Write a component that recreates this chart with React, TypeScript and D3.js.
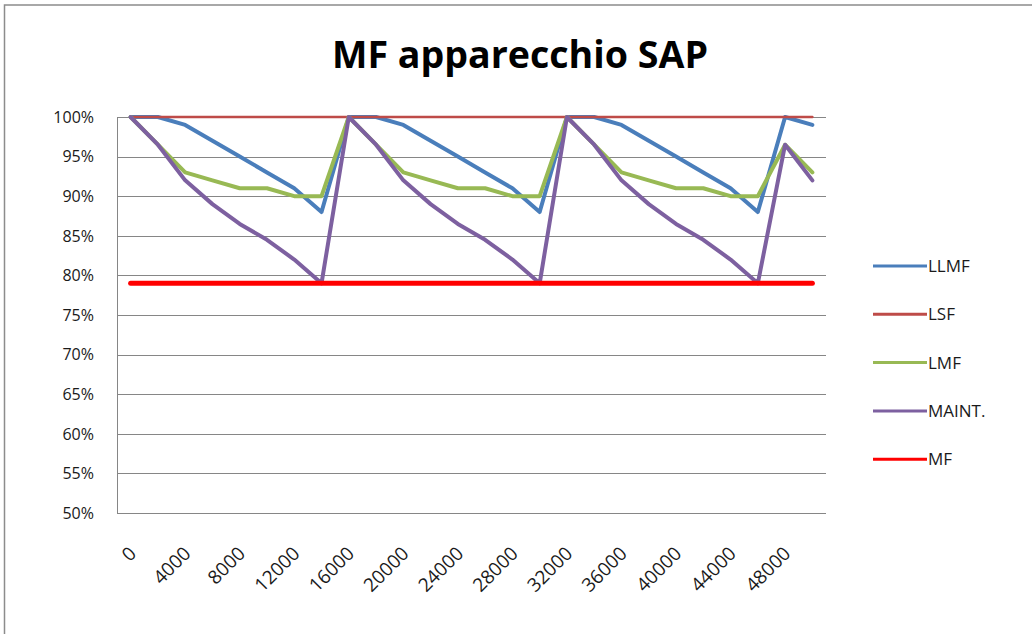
import React, { useEffect, useRef } from "react";
import * as d3 from "d3";

// ore di funzionamento (categorie asse x)
const hours = [
  0, 2000, 4000, 6000, 8000, 10000, 12000, 14000, 16000, 18000, 20000, 22000, 24000,
  26000, 28000, 30000, 32000, 34000, 36000, 38000, 40000, 42000, 44000, 46000, 48000, 50000,
];

const llmf = [
  100, 100, 99, 97, 95, 93, 91, 88, 100, 100, 99, 97, 95, 93, 91, 88, 100, 100, 99, 97, 95,
  93, 91, 88, 100, 99,
];
const lsf = [
  100, 100, 100, 100, 100, 100, 100, 100, 100, 100, 100, 100, 100, 100, 100, 100, 100, 100,
  100, 100, 100, 100, 100, 100, 100, 100,
];
const lmf = [
  100, 96.5, 93, 92, 91, 91, 90, 90, 100, 96.5, 93, 92, 91, 91, 90, 90, 100, 96.5, 93, 92,
  91, 91, 90, 90, 96.5, 93,
];
const maint = [
  100, 96.5, 92, 89, 86.5, 84.5, 82, 79, 100, 96.5, 92, 89, 86.5, 84.5, 82, 79, 100, 96.5,
  92, 89, 86.5, 84.5, 82, 79, 96.5, 92,
];
const mf = [
  79, 79, 79, 79, 79, 79, 79, 79, 79, 79, 79, 79, 79, 79, 79, 79, 79, 79, 79, 79, 79, 79, 79,
  79, 79, 79,
];

const yTicks = [50, 55, 60, 65, 70, 75, 80, 85, 90, 95, 100];

const series = [
  { name: "LLMF", values: llmf, color: "#4a7ebb", width: 4 },
  { name: "LSF", values: lsf, color: "#be4b48", width: 2.5 },
  { name: "LMF", values: lmf, color: "#98b954", width: 4 },
  { name: "MAINT.", values: maint, color: "#7d60a0", width: 4 },
  { name: "MF", values: mf, color: "#ff0000", width: 5 },
];

export default function App() {
  const ref = useRef<SVGSVGElement>(null);

  useEffect(() => {
    const svg = d3.select(ref.current);
    svg.selectAll("*").remove();

    const font = "'Open Sans', 'DejaVu Sans', sans-serif";
    const left = 117;
    const right = 826;
    const top = 117;
    const bottom = 513;

    const x = d3
      .scalePoint<number>()
      .domain(hours)
      .range([left, right])
      .padding(0.5);
    const y = d3.scaleLinear().domain([50, 100]).range([bottom, top]);

    // cornice del grafico
    svg
      .append("rect")
      .attr("x", 4.5)
      .attr("y", 5)
      .attr("width", 1040)
      .attr("height", 640)
      .attr("fill", "white")
      .attr("stroke", "#8c8c8c")
      .attr("stroke-width", 1.5);

    svg
      .append("text")
      .attr("x", 520)
      .attr("y", 68)
      .attr("text-anchor", "middle")
      .attr("font-family", font)
      .attr("font-weight", "bold")
      .attr("font-size", 37)
      .attr("textLength", 376)
      .attr("lengthAdjust", "spacingAndGlyphs")
      .attr("fill", "#000")
      .text("MF apparecchio SAP");

    // griglia
    svg
      .append("g")
      .selectAll("line")
      .data(yTicks)
      .enter()
      .append("line")
      .attr("x1", left)
      .attr("x2", right)
      .attr("y1", (d) => Math.round(y(d)) + 0.5)
      .attr("y2", (d) => Math.round(y(d)) + 0.5)
      .attr("stroke", "#868686")
      .attr("stroke-width", 1);

    svg
      .append("line")
      .attr("x1", left + 0.5)
      .attr("x2", left + 0.5)
      .attr("y1", top)
      .attr("y2", bottom)
      .attr("stroke", "#868686");

    svg
      .append("g")
      .selectAll("text")
      .data(yTicks)
      .enter()
      .append("text")
      .attr("x", 94)
      .attr("y", (d) => y(d))
      .attr("dy", "0.36em")
      .attr("text-anchor", "end")
      .attr("font-family", font)
      .attr("font-size", 16)
      .attr("fill", "#1a1a1a")
      .text((d) => d + "%");

    // etichette asse x, una sì e una no
    svg
      .append("g")
      .selectAll("text")
      .data(hours.filter((d, i) => i % 2 === 0))
      .enter()
      .append("text")
      .attr("transform", (d) => "translate(" + (x(d)! + 2) + ",550) rotate(-45)")
      .attr("dy", "0.35em")
      .attr("text-anchor", "end")
      .attr("font-family", font)
      .attr("font-size", 19)
      .attr("fill", "#1a1a1a")
      .text((d) => String(d));

    const line = d3
      .line<number>()
      .x((d, i) => x(hours[i])!)
      .y((d) => y(d));

    svg
      .append("g")
      .selectAll("path")
      .data(series)
      .enter()
      .append("path")
      .attr("d", (s) => line(s.values))
      .attr("fill", "none")
      .attr("stroke", (s) => s.color)
      .attr("stroke-width", (s) => s.width)
      .attr("stroke-linejoin", "round")
      .attr("stroke-linecap", "round");

    // legenda
    const legend = svg
      .append("g")
      .selectAll("g")
      .data(series)
      .enter()
      .append("g")
      .attr("transform", (s, i) => "translate(873," + (266 + i * 48.3) + ")");
    legend
      .append("line")
      .attr("x1", 0)
      .attr("x2", 54)
      .attr("stroke", (s) => s.color)
      .attr("stroke-width", 3);
    legend
      .append("text")
      .attr("x", 55)
      .attr("dy", "0.36em")
      .attr("font-family", font)
      .attr("font-size", 17)
      .attr("fill", "#1a1a1a")
      .text((s) => s.name);
  }, []);

  return (
    <svg
      ref={ref}
      width={1032}
      height={634}
      style={{ position: "absolute", left: 0, top: 0, display: "block" }}
    />
  );
}
